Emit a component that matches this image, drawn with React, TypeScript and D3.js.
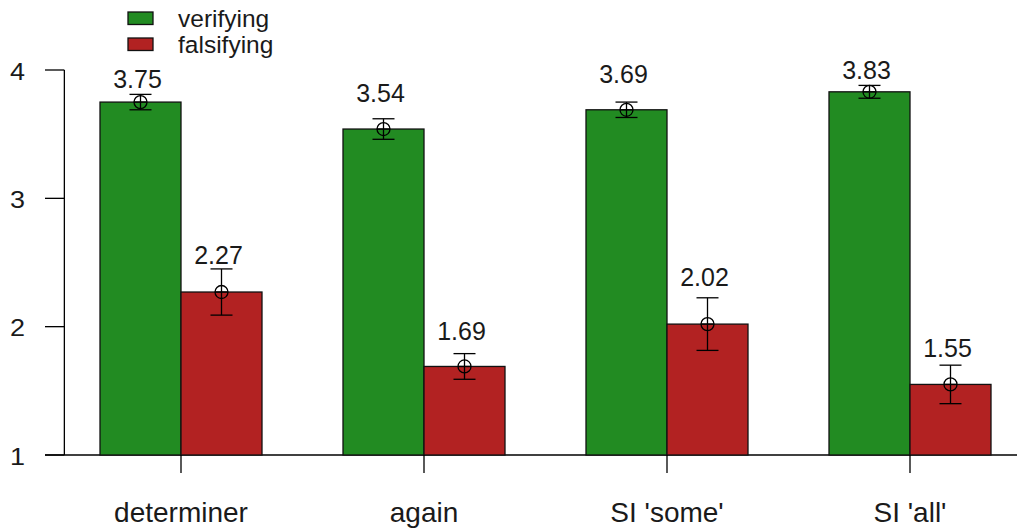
import React from "react";
import * as d3 from "d3";

const categories = ["determiner", "again", "SI 'some'", "SI 'all'"];
const seriesNames = ["verifying", "falsifying"];
const verifying = [3.75, 3.54, 3.69, 3.83];
const falsifying = [2.27, 1.69, 2.02, 1.55];
const verifyingSE = [0.06, 0.08, 0.06, 0.05];
const falsifyingSE = [0.18, 0.1, 0.205, 0.15];
// y position (data units) where the value labels were written
const verifyingLabelAt = [3.93, 3.82, 3.97, 4.0];
const falsifyingLabelAt = [2.56, 1.97, 2.39, 1.83];
const yTicks = [1, 2, 3, 4];

const W = 1017;
const H = 530;
const colors = ["#228B22", "#B22222"];
const FONT = "'Liberation Sans', Arial, Helvetica, sans-serif";
const TXT = "#1a1a1a";

export default function App() {
  // R barplot units: bar width 1, group gap 1
  const xu = d3.scaleLinear().domain([0, 12]).range([19, 991]);
  const y = d3.scaleLinear().domain([1, 4]).range([455, 70]);
  const axisX = xu(0.56);
  const series = [verifying, falsifying];
  const ses = [verifyingSE, falsifyingSE];
  const labs = [verifyingLabelAt, falsifyingLabelAt];

  return (
    <svg
      width={W}
      height={H}
      style={{ position: "absolute", left: 0, top: 0, background: "#fff" }}
      fontFamily={FONT}
    >
      {/* baseline at y = 1 */}
      <line x1={45} x2={W} y1={y(1)} y2={y(1)} stroke="#000" strokeWidth={1.3} />
      {/* y axis */}
      <line x1={axisX} x2={axisX} y1={y(4)} y2={y(1)} stroke="#000" strokeWidth={1.3} />
      {yTicks.map((t) => (
        <g key={t}>
          <line x1={45} x2={axisX} y1={y(t)} y2={y(t)} stroke="#000" strokeWidth={1.3} />
          <text
            x={25}
            y={y(t) + 1.5}
            textAnchor="end"
            dominantBaseline="central"
            fontSize={23}
            fill={TXT}
            textLength={15}
            lengthAdjust="spacingAndGlyphs"
          >
            {t}
          </text>
        </g>
      ))}
      {/* bars */}
      {categories.map((c, i) => {
        const g0 = 1 + 3 * i;
        return (
          <g key={c}>
            {series.map((s, j) => {
              const x0 = xu(g0 + j);
              const x1 = xu(g0 + j + 1);
              return (
                <rect
                  key={j}
                  x={x0}
                  y={y(s[i])}
                  width={x1 - x0}
                  height={y(1) - y(s[i])}
                  fill={colors[j]}
                  stroke="#111"
                  strokeWidth={1.3}
                />
              );
            })}
            {series.map((s, j) => {
              const cx = xu(g0 + j + 0.5);
              const v = s[i];
              const e = ses[j][i];
              return (
                <g key={"e" + j} stroke="#000" strokeWidth={1.3} fill="none">
                  <line x1={cx} x2={cx} y1={y(v + e)} y2={y(v - e)} />
                  <line x1={cx - 11} x2={cx + 11} y1={y(v + e)} y2={y(v + e)} />
                  <line x1={cx - 11} x2={cx + 11} y1={y(v - e)} y2={y(v - e)} />
                  <circle cx={cx} cy={y(v)} r={6.5} />
                  <line x1={cx - 6.5} x2={cx + 6.5} y1={y(v)} y2={y(v)} />
                </g>
              );
            })}
            {series.map((s, j) => (
              <text
                key={"l" + j}
                x={xu(g0 + j + 0.5) - 3}
                y={y(labs[j][i])}
                textAnchor="middle"
                dominantBaseline="central"
                fontSize={25}
                fill={TXT}
              >
                {s[i].toFixed(2)}
              </text>
            ))}
            <line x1={xu(g0 + 1)} x2={xu(g0 + 1)} y1={y(1)} y2={y(1) + 18} stroke="#000" strokeWidth={1.3} />
            <text x={xu(g0 + 1)} y={522} textAnchor="middle" fontSize={28} fill={TXT}>
              {c}
            </text>
          </g>
        );
      })}
      {/* legend */}
      {seriesNames.map((n, j) => (
        <g key={n}>
          <rect x={128} y={12 + 26 * j} width={25} height={12.5} fill={colors[j]} stroke="#111" strokeWidth={1.3} />
          <text x={178} y={27 + 26 * j} fontSize={24.5} fill={TXT}>
            {n}
          </text>
        </g>
      ))}
    </svg>
  );
}
